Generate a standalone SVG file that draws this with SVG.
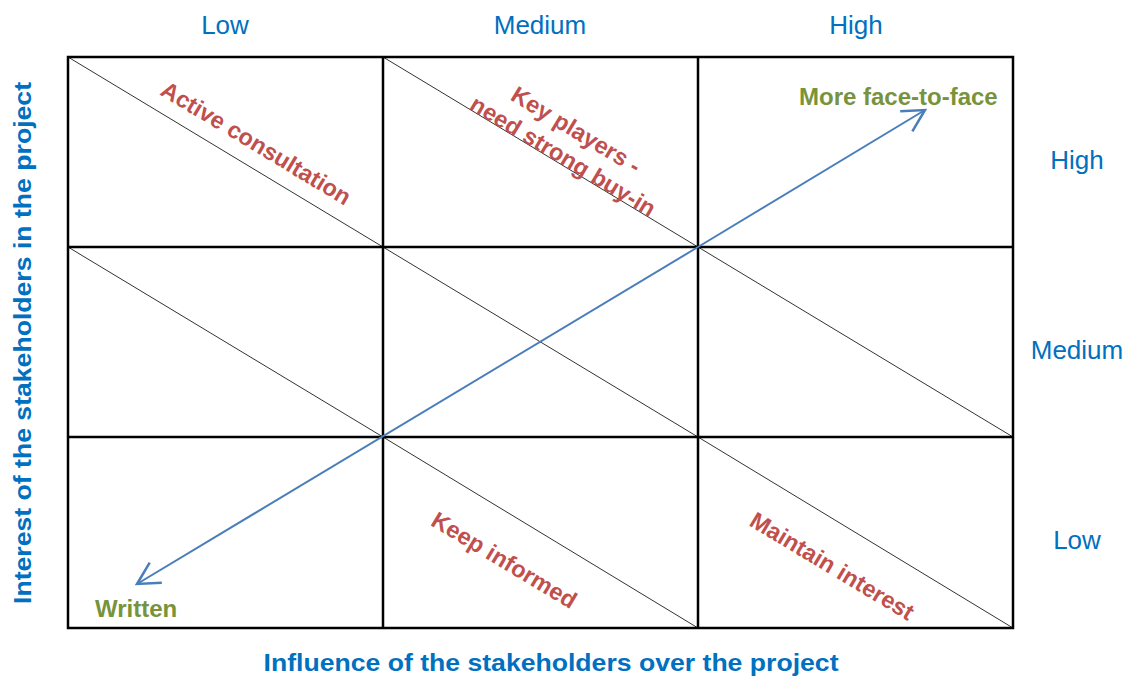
<svg xmlns="http://www.w3.org/2000/svg" width="1131" height="680" viewBox="0 0 1131 680">
<defs>
<style>
.grid{fill:none;stroke:#000;stroke-width:2.5}
.diag{stroke:#333;stroke-width:1}
.axis{font-family:"Liberation Sans",Arial,sans-serif;font-size:26px;fill:#0070C0;text-anchor:middle}
.title{font-family:"Liberation Sans",Arial,sans-serif;font-size:24px;font-weight:bold;fill:#0070C0;text-anchor:middle}
.red{font-family:"Liberation Sans",Arial,sans-serif;font-size:23.5px;font-weight:bold;fill:#C0504D;text-anchor:middle}
.green{font-family:"Liberation Sans",Arial,sans-serif;font-size:24px;font-weight:bold;fill:#77933C}
.arrow{stroke:#4A7EBB;stroke-width:2;fill:none}
</style>
<marker id="open" markerUnits="userSpaceOnUse" markerWidth="30" markerHeight="30" viewBox="-20 -12 22 24" refX="0" refY="0" orient="auto-start-reverse">
<path d="M-17.5,-9.4 L0,0 L-17.5,9.4" fill="none" stroke="#4A7EBB" stroke-width="2"/>
</marker>
</defs>
<rect width="1131" height="680" fill="#fff"/>
<g id="grid">
<line class="diag" x1="68" y1="57" x2="383" y2="247"/>
<line class="diag" x1="383" y1="57" x2="698" y2="247"/>
<line class="diag" x1="68" y1="247" x2="383" y2="437"/>
<line class="diag" x1="383" y1="247" x2="698" y2="437"/>
<line class="diag" x1="698" y1="247" x2="1013" y2="437"/>
<line class="diag" x1="383" y1="437" x2="698" y2="628"/>
<line class="diag" x1="698" y1="437" x2="1013" y2="628"/>
<rect class="grid" x="68" y="57" width="945" height="571"/>
<line class="grid" x1="383" y1="57" x2="383" y2="628"/>
<line class="grid" x1="698" y1="57" x2="698" y2="628"/>
<line class="grid" x1="68" y1="247" x2="1013" y2="247"/>
<line class="grid" x1="68" y1="437" x2="1013" y2="437"/>
</g>
<g id="connectors">
<line class="arrow" x1="698" y1="247" x2="925" y2="110" marker-end="url(#open)"/>
<line class="arrow" x1="698" y1="247" x2="137" y2="584" marker-end="url(#open)"/>
</g>
<g id="col-labels">
<text class="axis" x="225" y="34">Low</text>
<text class="axis" x="540" y="34">Medium</text>
<text class="axis" x="856" y="34">High</text>
</g>
<g id="row-labels">
<text class="axis" x="1077" y="169">High</text>
<text class="axis" x="1077" y="359">Medium</text>
<text class="axis" x="1077" y="549">Low</text>
</g>
<g id="axis-x"><text class="title" x="551" y="671" textLength="575" lengthAdjust="spacingAndGlyphs">Influence of the stakeholders over the project</text></g>
<g id="axis-y"><text class="title" transform="translate(31,343) rotate(-90)" x="0" y="0" textLength="522" lengthAdjust="spacingAndGlyphs">Interest of the stakeholders in the project</text></g>
<g id="active-consultation"><text class="red" transform="translate(252,150) rotate(31)">Active consultation</text></g>
<g id="key-players">
<text class="red" transform="translate(572,137) rotate(31)">Key players -</text>
<text class="red" transform="translate(559,163) rotate(31)">need strong buy-in</text>
</g>
<g id="keep-informed"><text class="red" transform="translate(500,567) rotate(31)">Keep informed</text></g>
<g id="maintain-interest"><text class="red" transform="translate(828,573) rotate(31)">Maintain interest</text></g>
<g id="more-face"><text class="green" x="799" y="105">More face-to-face</text></g>
<g id="written"><text class="green" x="95" y="617">Written</text></g>
</svg>
